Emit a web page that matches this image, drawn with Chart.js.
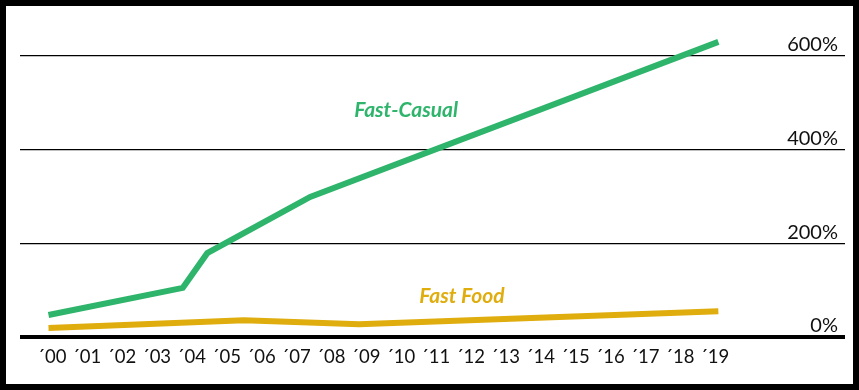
<!DOCTYPE html>
<html>
<head>
<meta charset="utf-8">
<script src="https://cdn.jsdelivr.net/npm/chart.js@4.4.1/dist/chart.umd.min.js"></script>
<style>
  body { margin: 0; background: #fff; }
  #frame { width: 859px; height: 390px; box-sizing: border-box; border: 6px solid #000; background: #fff; }
  canvas { display: block; }
</style>
</head>
<body>
<div id="frame"><canvas id="growthChart" width="847" height="378"></canvas></div>
<script>
// --------------------
// Data
// --------------------
const yearLabels = ['´00', '´01', '´02', '´03', '´04', '´05', '´06', '´07', '´08', '´09',
                    '´10', '´11', '´12', '´13', '´14', '´15', '´16', '´17', '´18', '´19'];
const yTicks = [0, 200, 400, 600];

// x is in years since 2000 (fractional where the bends fall between labels)
const fastCasualYears = [-0.1, 3.75, 4.45, 7.4, 19.1];
const fastCasualGrowth = [47, 105, 179, 299, 630];

const fastFoodYears = [-0.1, 5.5, 8.8, 19.1];
const fastFoodGrowth = [19, 36, 27, 55];

const GREEN = '#2fb46c';
const GOLD = '#e0ad0e';

const toPoints = (xs, ys) => xs.map((x, i) => ({ x: x, y: ys[i] }));

// --------------------
// Series name labels inside the plot
// --------------------
const seriesLabels = {
    id: 'seriesLabels',
    afterDatasetsDraw(chart) {
        const { ctx, scales: { x, y } } = chart;
        ctx.save();
        ctx.font = 'italic bold 21px Lato';
        ctx.textAlign = 'center';
        ctx.textBaseline = 'middle';
        ctx.fillStyle = GREEN;
        ctx.fillText('Fast-Casual', x.getPixelForValue(10.15), y.getPixelForValue(485));
        ctx.fillStyle = GOLD;
        ctx.fillText('Fast Food', x.getPixelForValue(11.75), y.getPixelForValue(88));
        ctx.restore();
    }
};

const ctx = document.getElementById('growthChart').getContext('2d');
new Chart(ctx, {
    type: 'line',
    data: {
        datasets: [
            { label: 'Fast-Casual', data: toPoints(fastCasualYears, fastCasualGrowth),
              borderColor: GREEN, borderWidth: 6, pointRadius: 0, tension: 0 },
            { label: 'Fast Food', data: toPoints(fastFoodYears, fastFoodGrowth),
              borderColor: GOLD, borderWidth: 6, pointRadius: 0, tension: 0 }
        ]
    },
    options: {
        responsive: false,
        animation: false,
        layout: { padding: { left: 14, right: 8, top: 12.5, bottom: 7 } },
        plugins: { legend: { display: false }, tooltip: { enabled: false } },
        scales: {
            x: {
                type: 'linear',
                min: -0.917,
                max: 22.73,
                afterBuildTicks: s => { s.ticks = yearLabels.map((_, i) => ({ value: i })); },
                afterFit: s => { s.height = 40; s.paddingLeft = 0; s.paddingRight = 0; },
                grid: { display: false, drawTicks: false },
                border: { display: false },
                ticks: {
                    autoSkip: false,
                    maxRotation: 0,
                    padding: 9,
                    color: '#111',
                    font: { family: 'Lato', size: 18.5 },
                    callback: v => yearLabels[v] ?? ''
                }
            },
            y: {
                position: 'right',
                min: 0,
                max: 680,
                afterBuildTicks: s => { s.ticks = yTicks.map(v => ({ value: v })); },
                afterFit: s => { s.width = 0; s.paddingTop = 0; s.paddingBottom = 0; },
                border: { display: false },
                grid: {
                    drawTicks: false,
                    color: '#000',
                    lineWidth: c => (c.tick && c.tick.value === 0 ? 4 : 1.2)
                },
                ticks: {
                    mirror: true,
                    padding: -7,
                    labelOffset: -11,
                    color: '#111',
                    font: { family: 'Lato', size: 20 },
                    callback: v => v + '%'
                }
            }
        }
    },
    plugins: [seriesLabels]
});
</script>
</body>
</html>
